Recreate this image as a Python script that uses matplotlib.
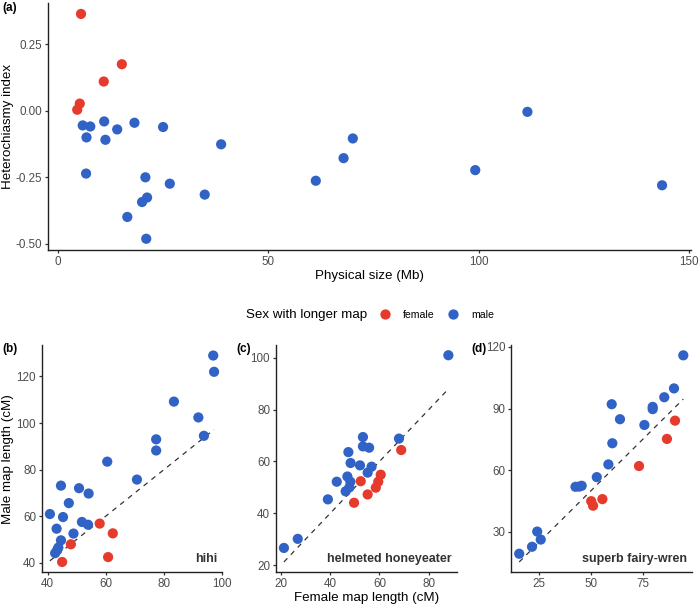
import matplotlib
matplotlib.use("Agg")
import matplotlib.pyplot as plt
from matplotlib.lines import Line2D
import numpy as np

plt.rcParams['font.family'] = ['Liberation Sans', 'DejaVu Sans']
plt.rcParams['axes.unicode_minus'] = False

RED = "#E53A2C"
BLUE = "#3163C6"

# ---- Panel (a): physical size vs heterochiasmy index ----
a_female_x = [5.5, 15.2, 10.9, 5.2, 4.6]
a_female_y = [0.363, 0.174, 0.109, 0.026, 0.003]
a_male_x = [5.9, 7.7, 11.0, 6.8, 11.3, 14.1, 18.2, 25.0, 38.8, 6.7, 20.8, 26.6,
            34.9, 21.2, 20.0, 16.5, 21.0, 61.3, 67.9, 70.1, 111.6, 99.2, 143.6]
a_male_y = [-0.056, -0.060, -0.041, -0.101, -0.110, -0.071, -0.046, -0.062, -0.127,
            -0.237, -0.251, -0.275, -0.316, -0.327, -0.344, -0.400, -0.482, -0.264,
            -0.179, -0.105, -0.005, -0.224, -0.281]

# ---- Panel (b): hihi ----
b_female_x = [57.9, 62.4, 48.0, 60.8, 45.0]
b_female_y = [56.8, 52.6, 47.9, 42.4, 40.3]
b_male_x = [96.9, 97.2, 83.4, 91.8, 93.7, 77.3, 77.3, 60.5, 70.7, 44.6, 50.8, 54.1,
            47.3, 40.8, 45.3, 43.1, 51.8, 53.9, 44.6, 48.9, 43.7, 42.6, 43.3]
b_male_y = [129.0, 122.0, 109.2, 102.4, 94.5, 93.0, 88.2, 83.4, 75.7, 73.1, 72.0, 69.7,
            65.6, 60.9, 59.6, 54.6, 57.5, 56.3, 49.6, 52.5, 46.5, 44.1, 45.4]

# ---- Panel (c): helmeted honeyeater ----
c_female_x = [68.8, 60.5, 59.5, 58.5, 52.4, 55.2, 49.7]
c_female_y = [64.4, 54.9, 52.2, 49.9, 52.4, 47.3, 44.1]
c_male_x = [87.9, 67.9, 53.3, 53.3, 55.8, 47.4, 48.3, 52.1, 56.8, 55.2, 42.7, 47.0,
            48.2, 47.8, 46.3, 39.1, 26.9, 21.3]
c_male_y = [100.9, 68.8, 69.4, 65.8, 65.3, 63.6, 59.4, 58.5, 58.0, 55.7, 52.2, 54.2,
            52.2, 50.0, 48.5, 45.4, 30.2, 26.7]

# ---- Panel (d): superb fairy-wren ----
d_female_x = [90.6, 86.7, 73.2, 55.5, 50.1, 51.0]
d_female_y = [84.1, 75.2, 62.0, 45.9, 44.9, 42.7]
d_male_x = [94.6, 90.1, 85.4, 79.8, 79.8, 75.8, 60.0, 64.0, 60.3, 58.4, 52.8, 45.5,
            44.3, 42.5, 24.0, 25.7, 21.5, 15.3]
d_male_y = [115.9, 99.8, 95.5, 90.8, 89.7, 82.0, 92.1, 84.8, 73.1, 62.8, 56.6, 52.4,
            52.0, 51.9, 30.1, 26.2, 22.7, 19.3]

a_xticks = [0, 50, 100, 150]
a_yticks = [-0.50, -0.25, 0.00, 0.25]
b_xticks = [40, 60, 80, 100]
b_yticks = [40, 60, 80, 100, 120]
c_xticks = [20, 40, 60, 80]
c_yticks = [20, 40, 60, 80, 100]
d_xticks = [25, 50, 75]
d_yticks = [30, 60, 90, 120]

panel_names = ["hihi", "helmeted honeyeater", "superb fairy-wren"]
legend_labels = ["female", "male"]

W, H = 699, 607
fig = plt.figure(figsize=(W / 100, H / 100), dpi=100)


def px_axes(left, top, right, bottom):
    return fig.add_axes([left / W, 1 - bottom / H, (right - left) / W, (bottom - top) / H])


def style(ax):
    for s in ["top", "right"]:
        ax.spines[s].set_visible(False)
    for s in ["left", "bottom"]:
        ax.spines[s].set_color("#222222")
        ax.spines[s].set_linewidth(1.0)
    ax.tick_params(axis="both", which="major", length=2.4, width=0.9, color="#333333",
                   labelsize=8.4, labelcolor="#4D4D4D", pad=1.6)


def expand(lo, hi, f=0.05):
    r = hi - lo
    return lo - f * r, hi + f * r


S = 54
LABEL_FS = 9.6

ax_a = px_axes(48, 2.7, 691.3, 250)
ax_a.scatter(a_male_x, a_male_y, s=S, color=BLUE, edgecolors="none", zorder=3)
ax_a.scatter(a_female_x, a_female_y, s=S, color=RED, edgecolors="none", zorder=3)
allx = a_male_x + a_female_x
ally = a_male_y + a_female_y
ax_a.set_xlim(*expand(min(allx), max(allx)))
ax_a.set_ylim(*expand(min(ally), max(ally)))
ax_a.set_xticks(a_xticks)
ax_a.set_yticks(a_yticks)
ax_a.set_yticklabels([f"{v:.2f}" for v in a_yticks])
style(ax_a)
ax_a.set_xlabel("Physical size (Mb)", fontsize=LABEL_FS)
ax_a.xaxis.set_label_coords(0.5, (250 - 270.0) / 247.3)
ax_a.set_ylabel("Heterochiasmy index", fontsize=LABEL_FS)
ax_a.yaxis.set_label_coords((14.0 - 48) / 643.3, 0.5)
fig.text(2 / W, 1 - 7.5 / H, "(a)", fontsize=8.5, fontweight="bold", va="center", ha="left")


def pair_panel(ax, fx, fy, mx, my, xticks, yticks, name, tag, tagx):
    ax.scatter(mx, my, s=S, color=BLUE, edgecolors="none", zorder=3)
    ax.scatter(fx, fy, s=S, color=RED, edgecolors="none", zorder=3)
    allx = fx + mx
    ally = fy + my
    lo, hi = min(allx), max(allx)
    ax.plot([lo, hi], [lo, hi], linestyle=(0, (4, 4)), color="#333333", lw=0.9, zorder=2)
    ax.set_xlim(*expand(lo, hi))
    ylo, yhi = min(ally + [lo]), max(ally + [hi])
    ax.set_ylim(*expand(ylo, yhi))
    ax.set_xticks(xticks)
    ax.set_yticks(yticks)
    style(ax)
    ax.text(0.975, 0.057, name, transform=ax.transAxes, ha="right", va="center",
            fontsize=9, fontweight="bold", color="#333333")
    fig.text(tagx / W, 1 - 349 / H, tag, fontsize=8.5, fontweight="bold", va="center", ha="left")


ax_b = px_axes(41.7, 345.2, 222.3, 572.3)
pair_panel(ax_b, b_female_x, b_female_y, b_male_x, b_male_y, b_xticks, b_yticks,
           panel_names[0], "(b)", 2)
ax_b.set_ylabel("Male map length (cM)", fontsize=LABEL_FS)
ax_b.yaxis.set_label_coords((14.0 - 41.7) / 180.6, 0.5)

ax_c = px_axes(275.7, 344.9, 456.6, 572.3)
pair_panel(ax_c, c_female_x, c_female_y, c_male_x, c_male_y, c_xticks, c_yticks,
           panel_names[1], "(c)", 236.5)
ax_c.set_xlabel("Female map length (cM)", fontsize=LABEL_FS)
ax_c.xaxis.set_label_coords(0.5, (572.3 - 591.5) / 227.4)

ax_d = px_axes(511, 345, 691.5, 572.3)
pair_panel(ax_d, d_female_x, d_female_y, d_male_x, d_male_y, d_xticks, d_yticks,
           panel_names[2], "(d)", 471.5)

# Legend
fig.text(246.5 / W, 1 - 315 / H, "Sex with longer map", fontsize=LABEL_FS, ha="left", va="center")
handles = [Line2D([], [], marker="o", linestyle="none", markersize=7.4,
                  markerfacecolor=c, markeredgecolor="none") for c in (RED, BLUE)]
fig.legend(handles, legend_labels, loc="center left", bbox_to_anchor=(377 / W, 1 - 315 / H),
           ncol=2, frameon=False, fontsize=7.6, handlelength=1.5, handletextpad=0.95,
           columnspacing=1.0, borderpad=0, borderaxespad=0)

fig.savefig("out.png", dpi=100)
